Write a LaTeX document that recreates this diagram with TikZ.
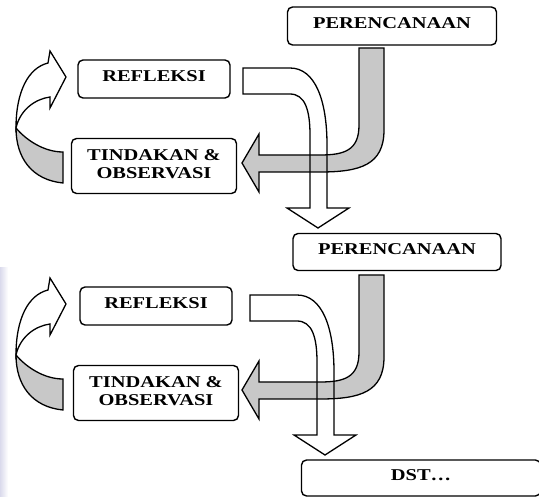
\documentclass[tikz,border=0pt]{standalone}
\usepackage{fontspec}
\setmainfont{Liberation Serif}
\definecolor{arrowgray}{RGB}{200,200,200}
\definecolor{scanedge}{RGB}{218,218,236}
\newcommand{\stagefont}{\fontsize{16.5}{18.5}\selectfont\bfseries}
\newcommand{\widen}[1]{\scalebox{1.24}[1]{#1}}
\tikzset{
	stagebox/.style={draw, line width=1.4pt, rounded corners=5pt, fill=white,
			inner sep=0pt, outer sep=0pt, font=\stagefont},
	onelinebox/.style={stagebox, text depth=6pt},
	twolinebox/.style={stagebox, align=center},
	grayarrow/.style={draw, line width=1.3pt, fill=arrowgray},
	whitearrow/.style={draw, line width=1.3pt}
}

\begin{document}
\begin{tikzpicture}[x=1pt,y=-1pt]
	\useasboundingbox (0,0) rectangle (539,497);

	% Scan shadow on the left edge
	\shade[left color=scanedge, right color=white] (0,268) rectangle (8,497);

	% First cycle: arrows
	\draw[grayarrow] (16,128) .. controls (26,140) and (44,152) .. (63,152) -- (63,183)
		.. controls (32,180) and (16,158) .. (16,128) -- cycle;
	\draw[whitearrow, fill=white] (16,128) .. controls (16,92) and (28,68) .. (48,63) -- (50,51)
		-- (66,77) -- (50,108) -- (50,97) .. controls (35,99) and (20,110) .. (16,128) -- cycle;
	\draw[grayarrow] (359,48) -- (384,48) -- (384,130) .. controls (384,165) and (360,172) .. (320,172)
		-- (259,172) -- (259,192) -- (242,163) -- (259,134) -- (259,155) -- (320,155)
		.. controls (345,155) and (359,150) .. (359,125) -- cycle;
	\draw[whitearrow] (243,68) -- (290,68) .. controls (315,68) and (327,100) .. (327,145) -- (327,208)
		-- (349,208) -- (318,228) -- (287,208) -- (310,208) -- (310,135)
		.. controls (310,110) and (305,94) .. (290,94) -- (243,94) -- cycle;

	% First cycle: stages
	\node[onelinebox, minimum width=209pt, minimum height=38pt] (plan1) at (392,26) {\widen{PERENCANAAN}};
	\node[onelinebox, minimum width=152pt, minimum height=38pt] (refl1) at (154,79) {\widen{REFLEKSI}};
	\node[twolinebox, minimum width=165pt, minimum height=55pt] (act1) at (154,166)
		{\widen{\begin{tabular}{@{}c@{}}TINDAKAN \&\\OBSERVASI\end{tabular}}};

	% Second cycle: arrows
	\begin{scope}[shift={(0,227)}]
		\draw[grayarrow] (16,128) .. controls (26,140) and (44,152) .. (63,152) -- (63,183)
			.. controls (32,180) and (16,158) .. (16,128) -- cycle;
		\draw[whitearrow, fill=white] (16,128) .. controls (16,92) and (28,68) .. (48,63) -- (50,51)
			-- (66,77) -- (50,108) -- (50,97) .. controls (35,99) and (20,110) .. (16,128) -- cycle;
		\draw[grayarrow] (359,48) -- (384,48) -- (384,130) .. controls (384,165) and (360,172) .. (320,172)
			-- (259,172) -- (259,192) -- (242,163) -- (259,134) -- (259,155) -- (320,155)
			.. controls (345,155) and (359,150) .. (359,125) -- cycle;
	\end{scope}
	\begin{scope}[shift={(7,227)}]
		\draw[whitearrow] (243,68) -- (290,68) .. controls (315,68) and (327,100) .. (327,145) -- (327,208)
			-- (349,208) -- (318,228) -- (287,208) -- (310,208) -- (310,135)
			.. controls (310,110) and (305,94) .. (290,94) -- (243,94) -- cycle;
	\end{scope}

	% Second cycle: stages
	\node[onelinebox, minimum width=208pt, minimum height=37pt] (plan2) at (397,252) {\widen{PERENCANAAN}};
	\node[onelinebox, minimum width=152pt, minimum height=38pt] (refl2) at (156,306) {\widen{REFLEKSI}};
	\node[twolinebox, minimum width=165pt, minimum height=55pt] (act2) at (156,393)
		{\widen{\begin{tabular}{@{}c@{}}TINDAKAN \&\\OBSERVASI\end{tabular}}};
	\node[onelinebox, minimum width=239pt, minimum height=36pt] (next) at (421,478) {\widen{DST\ldots}};
\end{tikzpicture}
\end{document}
